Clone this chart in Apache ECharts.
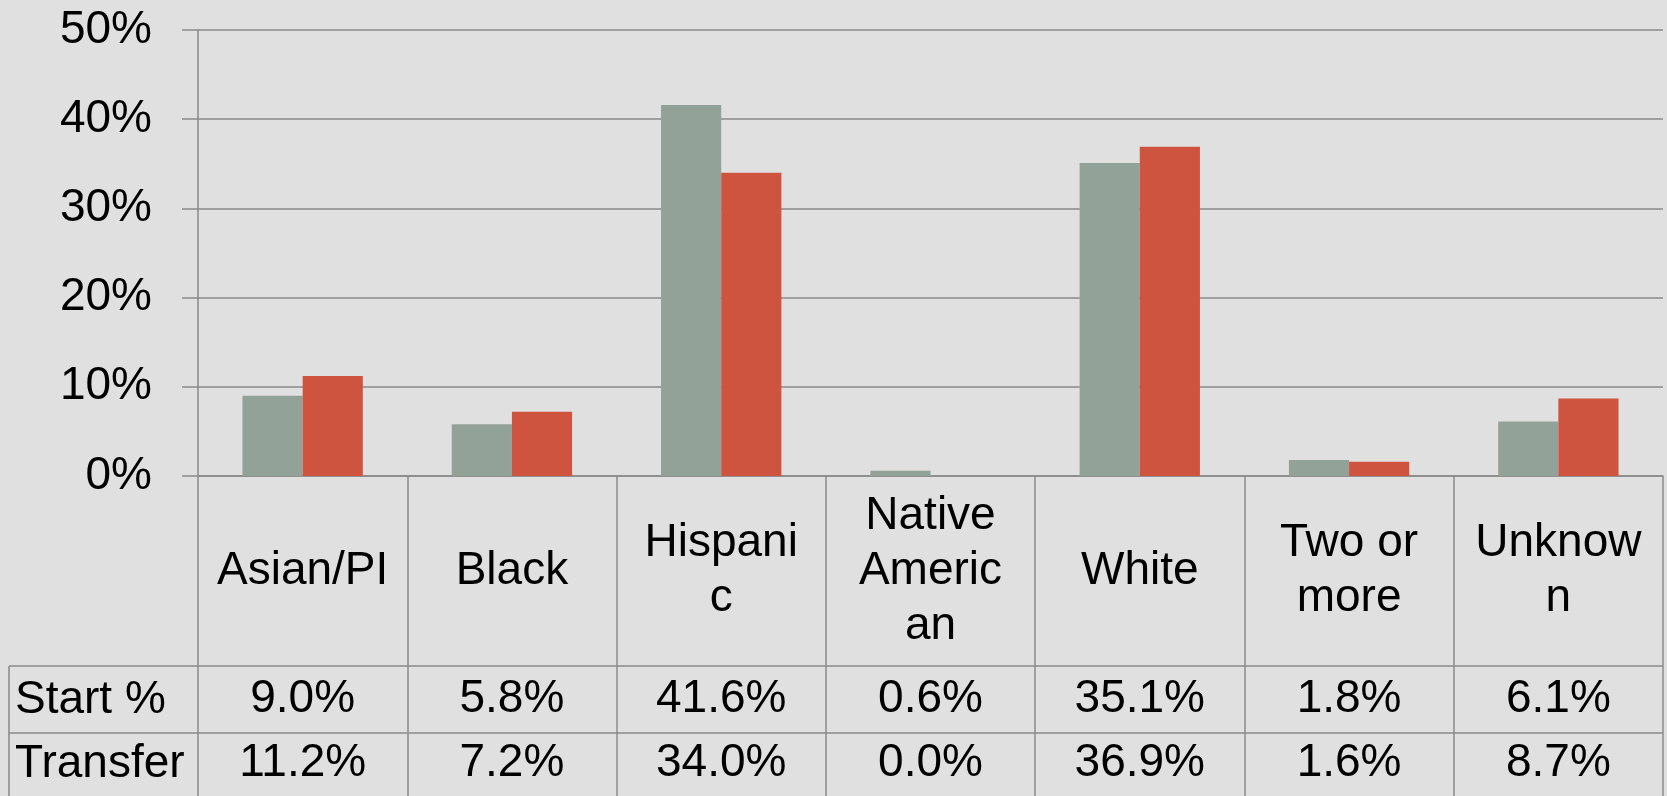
<!DOCTYPE html>
<html>
<head>
<meta charset="utf-8">
<script src="https://cdn.jsdelivr.net/npm/echarts@6/dist/echarts.min.js"></script>
<style>
html,body{margin:0;padding:0;background:#e0e0e0;}
#chart{width:1667px;height:796px;}
</style>
</head>
<body>
<div id="chart"></div>
<script>
const categories = ['Asian/PI', 'Black', 'Hispani\nc', 'Native\nAmeric\nan', 'White', 'Two or\nmore', 'Unknow\nn'];
const startPct = [9.0, 5.8, 41.6, 0.6, 35.1, 1.8, 6.1];
const transferPct = [11.2, 7.2, 34.0, 0.0, 36.9, 1.6, 8.7];
const rowLabels = ['Start %', 'Transfer'];
const yMin = 0, yMax = 50, yInterval = 10;

const FONT = 'Liberation Sans';
const FS = 46;
const LINE = '#8a8a8a';
const chart = echarts.init(document.getElementById('chart'), null, {renderer: 'canvas'});

const gridTop = 30, gridBottom = 320, gridLeft = 198, gridRight = 4;
const H = 796, W = 1667;
const axisY = H - gridBottom;          // 476
const row1Top = 666, row2Top = 733;
const fmt = v => v.toFixed(1) + '%';

function valueAxis(data, margin) {
  return {
    type: 'category', gridIndex: 0, position: 'bottom', data: data,
    axisLine: {show: false}, axisTick: {show: false}, splitLine: {show: false},
    axisLabel: {interval: 0, margin: margin, verticalAlign: 'middle', fontFamily: FONT, fontSize: FS, color: '#000'}
  };
}

chart.setOption({
  backgroundColor: '#e0e0e0',
  animation: false,
  grid: {top: gridTop, bottom: gridBottom, left: gridLeft, right: gridRight},
  xAxis: [
    {
      type: 'category', data: categories, position: 'bottom',
      axisLine: {show: true, lineStyle: {color: LINE, width: 1.5}},
      axisTick: {show: true, length: H - axisY, interval: 0, lineStyle: {color: LINE, width: 1.5}},
      axisLabel: {interval: 0, margin: (row1Top + axisY) / 2 - axisY, verticalAlign: 'middle', align: 'center',
        fontFamily: FONT, fontSize: FS, lineHeight: 55, color: '#000'},
      splitLine: {show: false}
    },
    valueAxis(startPct.map(fmt), (row1Top + row2Top) / 2 - axisY),
    valueAxis(transferPct.map(fmt), (row2Top + H) / 2 - 1 - axisY)
  ],
  yAxis: {
    type: 'value', min: yMin, max: yMax, interval: yInterval,
    axisLine: {show: true, lineStyle: {color: LINE, width: 1.5}},
    axisTick: {show: true, length: 16, lineStyle: {color: LINE, width: 1.5}},
    splitLine: {show: true, lineStyle: {color: LINE, width: 1.5}},
    axisLabel: {formatter: '{value}%', margin: 46, fontFamily: FONT, fontSize: FS, color: '#000'}
  },
  series: [
    {name: 'Start %', type: 'bar', data: startPct, barGap: '0%', barCategoryGap: '42.5%',
      itemStyle: {color: '#93a299'}},
    {name: 'Transfer', type: 'bar', data: transferPct, barGap: '0%', barCategoryGap: '42.5%',
      itemStyle: {color: '#cf543f'}}
  ],
  graphic: [
    {type: 'line', shape: {x1: 9, y1: row1Top, x2: W - gridRight, y2: row1Top}, style: {stroke: LINE, lineWidth: 1.5}, silent: true},
    {type: 'line', shape: {x1: 9, y1: row2Top, x2: W - gridRight, y2: row2Top}, style: {stroke: LINE, lineWidth: 1.5}, silent: true},
    {type: 'line', shape: {x1: 9, y1: row1Top, x2: 9, y2: H}, style: {stroke: LINE, lineWidth: 1.5}, silent: true},
    {type: 'text', left: 15, top: (row1Top + row2Top) / 2 - 27,
      style: {text: rowLabels[0], font: FS + 'px "' + FONT + '"', fill: '#000', lineHeight: 55, verticalAlign: 'top'}},
    {type: 'text', left: 15, top: (row2Top + H) / 2 - 28,
      style: {text: rowLabels[1], font: FS + 'px "' + FONT + '"', fill: '#000', lineHeight: 55, verticalAlign: 'top'}}
  ]
});
</script>
</body>
</html>
